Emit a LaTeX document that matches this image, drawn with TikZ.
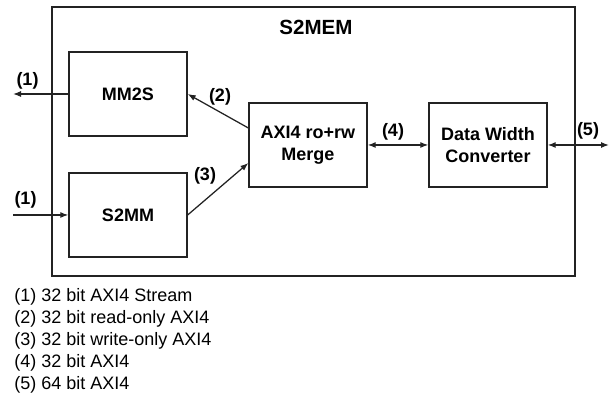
\documentclass[tikz,border=0pt]{standalone}
\usepackage{fontspec}
\setmainfont{Liberation Sans}
\usetikzlibrary{arrows.meta,positioning}
\definecolor{lnGray}{RGB}{35,35,35}

\begin{document}
\begin{tikzpicture}[x=0.025cm,y=-0.025cm,font=\fontsize{12.8}{15.6}\selectfont]
  \tikzset{blk/.style={draw=lnGray,line width=0.9pt,minimum width=2.95cm,minimum height=2.1cm,align=center,font=\fontsize{12.8}{15.6}\selectfont\bfseries},
    lbl/.style={inner sep=0pt,font=\fontsize{12.8}{15.6}\selectfont\bfseries},
    con/.style={-{Latex[length=2mm,width=1.5mm]},line width=0.9pt,draw=lnGray},
    dbl/.style={{Latex[length=2mm,width=1.5mm]}-{Latex[length=2mm,width=1.5mm]},line width=0.9pt,draw=lnGray}}
  \useasboundingbox (0,0) rectangle (613,399);
  % outer wrapper with its title
  \node[draw=lnGray,line width=0.9pt,minimum width=13.075cm,minimum height=6.725cm] (wrap) at (313.5,141.5) {};
  \node[lbl,font=\fontsize{14.6}{17}\selectfont\bfseries] (title) at (316,27) {S2MEM};
  % inner blocks
  \node[blk] (mm2s) at (128,94) {MM2S};
  \node[blk] (s2mm) at (128,215) {S2MM};
  \node[blk] (merge) at (308,145) {AXI4 ro+rw\\Merge};
  \node[blk] (dwc) at (488,145) {Data Width\\Converter};
  % free ends outside the wrapper
  \coordinate (mmOut) at (13,94);
  \coordinate (s2In) at (13,215);
  \coordinate (wideOut) at (609,145);
  % connectors
  \draw[con] (mm2s.west) -- (mmOut);
  \draw[con] (s2In) -- (s2mm.west);
  \draw[con] ([yshift=0.425cm]merge.west) -- (mm2s.east);
  \draw[con] (s2mm.east) -- ([yshift=-0.45cm]merge.west);
  \draw[dbl] (merge.east) -- (dwc.west);
  \draw[dbl] (dwc.east) -- (wideOut);
  % bus labels
  \node[lbl] (l1a) at (27.5,81) {(1)};
  \node[lbl] (l1b) at (25.5,200) {(1)};
  \node[lbl] (l2) at (220,96.5) {(2)};
  \node[lbl] (l3) at (205,176) {(3)};
  \node[lbl] (l4) at (393,132) {(4)};
  \node[lbl] (l5) at (588,131) {(5)};
  % legend
  \foreach \n/\txt in {1/32 bit AXI4 Stream,2/32 bit read-only AXI4,3/32 bit write-only AXI4,4/32 bit AXI4,5/64 bit AXI4}
    \node[anchor=west,inner sep=0pt] (leg\n) at (14,{297+22*(\n-1)}) {(\n) \txt};
\end{tikzpicture}
\end{document}
